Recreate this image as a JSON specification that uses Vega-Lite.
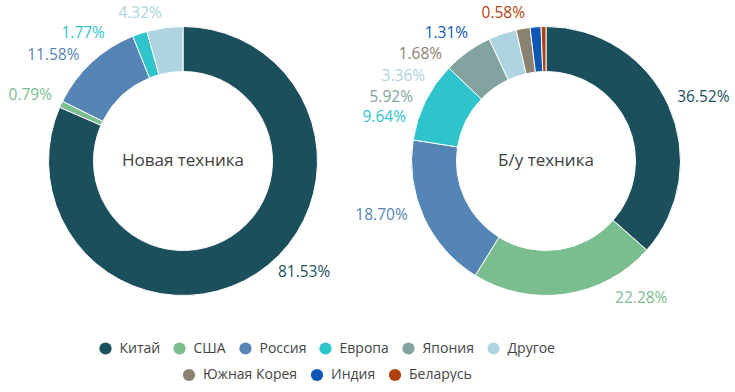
{
  "$schema": "https://vega.github.io/schema/vega-lite/v6.json",
  "background": "white",
  "padding": {"left": 1.5, "top": 1, "right": 0, "bottom": 0},
  "spacing": 0,
  "bounds": "flush",
  "datasets": {
    "new": [
      {"cat": "Китай", "order": 1, "value": 0.8153},
      {"cat": "США", "order": 2, "value": 0.0079},
      {"cat": "Россия", "order": 3, "value": 0.1158},
      {"cat": "Европа", "order": 4, "value": 0.0177},
      {"cat": "Другое", "order": 6, "value": 0.0432}
    ],
    "used": [
      {"cat": "Китай", "order": 1, "value": 0.3652},
      {"cat": "США", "order": 2, "value": 0.2228},
      {"cat": "Россия", "order": 3, "value": 0.1870},
      {"cat": "Европа", "order": 4, "value": 0.0964},
      {"cat": "Япония", "order": 5, "value": 0.0592},
      {"cat": "Другое", "order": 6, "value": 0.0336},
      {"cat": "Южная Корея", "order": 7, "value": 0.0168},
      {"cat": "Индия", "order": 8, "value": 0.0131},
      {"cat": "Беларусь", "order": 9, "value": 0.0058}
    ]
  },
  "hconcat": [
    {
      "width": 363, "height": 320,
      "data": {"name": "new"},
      "layer": [
        {
          "mark": {"type": "arc", "outerRadius": 134.5, "innerRadius": 89.5, "stroke": "#ffffff", "strokeWidth": 1},
          "encoding": {
            "theta": {"field": "value", "type": "quantitative", "stack": true},
            "order": {"field": "order", "type": "quantitative"},
            "color": {"field": "cat", "type": "nominal",
              "scale": {"domain": ["Китай","США","Россия","Европа","Япония","Другое","Южная Корея","Индия","Беларусь"], "range": ["#1c4f5c","#7abd8f","#5585b5","#2ec4cc","#82a3a0","#add4e0","#8b8170","#0d57b5","#b0420f"]},
              "legend": {"values": ["Китай","США","Россия","Европа","Япония","Другое"], "orient": "none", "legendX": 97, "legendY": 340.5, "direction": "horizontal", "title": null, "symbolSize": 150,
                "encode": {"symbols": {"update": {"size": {"value": 150}, "strokeWidth": {"value": 0}}}}}}
          }
        },
        {
          "mark": {"type": "text", "radius": 134, "align": "left", "baseline": "middle", "dx": 21.5, "dy": -1, "font": "Open Sans", "fontSize": 15.5},
          "encoding": {
            "theta": {"field": "value", "type": "quantitative", "stack": true},
            "order": {"field": "order", "type": "quantitative"},
            "color": {"field": "cat", "type": "nominal", "scale": {"domain": ["Китай","США","Россия","Европа","Япония","Другое","Южная Корея","Индия","Беларусь"], "range": ["#1c4f5c","#7abd8f","#5585b5","#2ec4cc","#82a3a0","#add4e0","#8b8170","#0d57b5","#b0420f"]}},
            "text": {"condition": {"test": "datum.cat === 'Китай'", "field": "value", "type": "quantitative", "format": ".2%"}, "value": ""}
          }
        },
        {
          "mark": {"type": "text", "radius": 134, "align": "right", "baseline": "middle", "dx": -9.5, "dy": -9, "font": "Open Sans", "fontSize": 15.5},
          "encoding": {
            "theta": {"field": "value", "type": "quantitative", "stack": true},
            "order": {"field": "order", "type": "quantitative"},
            "color": {"field": "cat", "type": "nominal", "scale": {"domain": ["Китай","США","Россия","Европа","Япония","Другое","Южная Корея","Индия","Беларусь"], "range": ["#1c4f5c","#7abd8f","#5585b5","#2ec4cc","#82a3a0","#add4e0","#8b8170","#0d57b5","#b0420f"]}},
            "text": {"condition": {"test": "datum.cat === 'США'", "field": "value", "type": "quantitative", "format": ".2%"}, "value": ""}
          }
        },
        {
          "mark": {"type": "text", "radius": 134, "align": "right", "baseline": "middle", "dx": -12.5, "dy": -8, "font": "Open Sans", "fontSize": 15.5},
          "encoding": {
            "theta": {"field": "value", "type": "quantitative", "stack": true},
            "order": {"field": "order", "type": "quantitative"},
            "color": {"field": "cat", "type": "nominal", "scale": {"domain": ["Китай","США","Россия","Европа","Япония","Другое","Южная Корея","Индия","Беларусь"], "range": ["#1c4f5c","#7abd8f","#5585b5","#2ec4cc","#82a3a0","#add4e0","#8b8170","#0d57b5","#b0420f"]}},
            "text": {"condition": {"test": "datum.cat === 'Россия'", "field": "value", "type": "quantitative", "format": ".2%"}, "value": ""}
          }
        },
        {
          "mark": {"type": "text", "radius": 134, "align": "right", "baseline": "middle", "dx": -35, "dy": -1, "font": "Open Sans", "fontSize": 15.5},
          "encoding": {
            "theta": {"field": "value", "type": "quantitative", "stack": true},
            "order": {"field": "order", "type": "quantitative"},
            "color": {"field": "cat", "type": "nominal", "scale": {"domain": ["Китай","США","Россия","Европа","Япония","Другое","Южная Корея","Индия","Беларусь"], "range": ["#1c4f5c","#7abd8f","#5585b5","#2ec4cc","#82a3a0","#add4e0","#8b8170","#0d57b5","#b0420f"]}},
            "text": {"condition": {"test": "datum.cat === 'Европа'", "field": "value", "type": "quantitative", "format": ".2%"}, "value": ""}
          }
        },
        {
          "mark": {"type": "text", "radius": 134, "align": "right", "baseline": "middle", "dx": -3, "dy": -15, "font": "Open Sans", "fontSize": 15.5},
          "encoding": {
            "theta": {"field": "value", "type": "quantitative", "stack": true},
            "order": {"field": "order", "type": "quantitative"},
            "color": {"field": "cat", "type": "nominal", "scale": {"domain": ["Китай","США","Россия","Европа","Япония","Другое","Южная Корея","Индия","Беларусь"], "range": ["#1c4f5c","#7abd8f","#5585b5","#2ec4cc","#82a3a0","#add4e0","#8b8170","#0d57b5","#b0420f"]}},
            "text": {"condition": {"test": "datum.cat === 'Другое'", "field": "value", "type": "quantitative", "format": ".2%"}, "value": ""}
          }
        },
        {
          "data": {"values": [{"title": "Новая техника"}]},
          "mark": {"type": "text", "align": "center", "baseline": "middle", "font": "Open Sans", "fontSize": 17, "color": "#404040"},
          "encoding": {"text": {"field": "title", "type": "nominal"}}
        }
      ]
    },
    {
      "width": 363, "height": 320,
      "data": {"name": "used"},
      "layer": [
        {
          "mark": {"type": "arc", "outerRadius": 134.5, "innerRadius": 89.5, "stroke": "#ffffff", "strokeWidth": 1},
          "encoding": {
            "theta": {"field": "value", "type": "quantitative", "stack": true},
            "order": {"field": "order", "type": "quantitative"},
            "color": {"field": "cat", "type": "nominal",
              "scale": {"domain": ["Китай","США","Россия","Европа","Япония","Другое","Южная Корея","Индия","Беларусь"], "range": ["#1c4f5c","#7abd8f","#5585b5","#2ec4cc","#82a3a0","#add4e0","#8b8170","#0d57b5","#b0420f"]}}
          }
        },
        {
          "mark": {"type": "arc", "outerRadius": 0, "innerRadius": 0},
          "encoding": {
            "theta": {"field": "value", "type": "quantitative", "stack": true},
            "order": {"field": "order", "type": "quantitative"},
            "fill": {"field": "cat", "type": "nominal",
              "scale": {"domain": ["Южная Корея","Индия","Беларусь","Китай","США","Россия","Европа","Япония","Другое"], "range": ["#8b8170","#0d57b5","#b0420f","#1c4f5c","#7abd8f","#5585b5","#2ec4cc","#82a3a0","#add4e0"]},
              "legend": {"values": ["Южная Корея","Индия","Беларусь"], "orient": "none", "legendX": 180.5, "legendY": 367, "direction": "horizontal", "title": null, "symbolSize": 150, "symbolType": "circle",
                "encode": {"symbols": {"update": {"size": {"value": 150}, "strokeWidth": {"value": 0}}}}}}
          }
        },
        {
          "mark": {"type": "text", "radius": 134, "align": "left", "baseline": "middle", "dx": 9, "dy": -9, "font": "Open Sans", "fontSize": 15.5},
          "encoding": {
            "theta": {"field": "value", "type": "quantitative", "stack": true},
            "order": {"field": "order", "type": "quantitative"},
            "color": {"field": "cat", "type": "nominal", "scale": {"domain": ["Китай","США","Россия","Европа","Япония","Другое","Южная Корея","Индия","Беларусь"], "range": ["#1c4f5c","#7abd8f","#5585b5","#2ec4cc","#82a3a0","#add4e0","#8b8170","#0d57b5","#b0420f"]}},
            "text": {"condition": {"test": "datum.cat === 'Китай'", "field": "value", "type": "quantitative", "format": ".2%"}, "value": ""}
          }
        },
        {
          "mark": {"type": "text", "radius": 134, "align": "left", "baseline": "middle", "dx": 49.5, "dy": 4.5, "font": "Open Sans", "fontSize": 15.5},
          "encoding": {
            "theta": {"field": "value", "type": "quantitative", "stack": true},
            "order": {"field": "order", "type": "quantitative"},
            "color": {"field": "cat", "type": "nominal", "scale": {"domain": ["Китай","США","Россия","Европа","Япония","Другое","Южная Корея","Индия","Беларусь"], "range": ["#1c4f5c","#7abd8f","#5585b5","#2ec4cc","#82a3a0","#add4e0","#8b8170","#0d57b5","#b0420f"]}},
            "text": {"condition": {"test": "datum.cat === 'США'", "field": "value", "type": "quantitative", "format": ".2%"}, "value": ""}
          }
        },
        {
          "mark": {"type": "text", "radius": 134, "align": "right", "baseline": "middle", "dx": -16.5, "dy": -2, "font": "Open Sans", "fontSize": 15.5},
          "encoding": {
            "theta": {"field": "value", "type": "quantitative", "stack": true},
            "order": {"field": "order", "type": "quantitative"},
            "color": {"field": "cat", "type": "nominal", "scale": {"domain": ["Китай","США","Россия","Европа","Япония","Другое","Южная Корея","Индия","Беларусь"], "range": ["#1c4f5c","#7abd8f","#5585b5","#2ec4cc","#82a3a0","#add4e0","#8b8170","#0d57b5","#b0420f"]}},
            "text": {"condition": {"test": "datum.cat === 'Россия'", "field": "value", "type": "quantitative", "format": ".2%"}, "value": ""}
          }
        },
        {
          "mark": {"type": "text", "radius": 134, "align": "right", "baseline": "middle", "dx": -20, "dy": 15.5, "font": "Open Sans", "fontSize": 15.5},
          "encoding": {
            "theta": {"field": "value", "type": "quantitative", "stack": true},
            "order": {"field": "order", "type": "quantitative"},
            "color": {"field": "cat", "type": "nominal", "scale": {"domain": ["Китай","США","Россия","Европа","Япония","Другое","Южная Корея","Индия","Беларусь"], "range": ["#1c4f5c","#7abd8f","#5585b5","#2ec4cc","#82a3a0","#add4e0","#8b8170","#0d57b5","#b0420f"]}},
            "text": {"condition": {"test": "datum.cat === 'Европа'", "field": "value", "type": "quantitative", "format": ".2%"}, "value": ""}
          }
        },
        {
          "mark": {"type": "text", "radius": 134, "align": "right", "baseline": "middle", "dx": -55, "dy": 45, "font": "Open Sans", "fontSize": 15.5},
          "encoding": {
            "theta": {"field": "value", "type": "quantitative", "stack": true},
            "order": {"field": "order", "type": "quantitative"},
            "color": {"field": "cat", "type": "nominal", "scale": {"domain": ["Китай","США","Россия","Европа","Япония","Другое","Южная Корея","Индия","Беларусь"], "range": ["#1c4f5c","#7abd8f","#5585b5","#2ec4cc","#82a3a0","#add4e0","#8b8170","#0d57b5","#b0420f"]}},
            "text": {"condition": {"test": "datum.cat === 'Япония'", "field": "value", "type": "quantitative", "format": ".2%"}, "value": ""}
          }
        },
        {
          "mark": {"type": "text", "radius": 134, "align": "right", "baseline": "middle", "dx": -77.5, "dy": 42, "font": "Open Sans", "fontSize": 15.5},
          "encoding": {
            "theta": {"field": "value", "type": "quantitative", "stack": true},
            "order": {"field": "order", "type": "quantitative"},
            "color": {"field": "cat", "type": "nominal", "scale": {"domain": ["Китай","США","Россия","Европа","Япония","Другое","Южная Корея","Индия","Беларусь"], "range": ["#1c4f5c","#7abd8f","#5585b5","#2ec4cc","#82a3a0","#add4e0","#8b8170","#0d57b5","#b0420f"]}},
            "text": {"condition": {"test": "datum.cat === 'Другое'", "field": "value", "type": "quantitative", "format": ".2%"}, "value": ""}
          }
        },
        {
          "mark": {"type": "text", "radius": 134, "align": "right", "baseline": "middle", "dx": -81, "dy": 25, "font": "Open Sans", "fontSize": 15.5},
          "encoding": {
            "theta": {"field": "value", "type": "quantitative", "stack": true},
            "order": {"field": "order", "type": "quantitative"},
            "color": {"field": "cat", "type": "nominal", "scale": {"domain": ["Китай","США","Россия","Европа","Япония","Другое","Южная Корея","Индия","Беларусь"], "range": ["#1c4f5c","#7abd8f","#5585b5","#2ec4cc","#82a3a0","#add4e0","#8b8170","#0d57b5","#b0420f"]}},
            "text": {"condition": {"test": "datum.cat === 'Южная Корея'", "field": "value", "type": "quantitative", "format": ".2%"}, "value": ""}
          }
        },
        {
          "mark": {"type": "text", "radius": 134, "align": "right", "baseline": "middle", "dx": -67.5, "dy": 5.5, "font": "Open Sans", "fontSize": 15.5},
          "encoding": {
            "theta": {"field": "value", "type": "quantitative", "stack": true},
            "order": {"field": "order", "type": "quantitative"},
            "color": {"field": "cat", "type": "nominal", "scale": {"domain": ["Китай","США","Россия","Европа","Япония","Другое","Южная Корея","Индия","Беларусь"], "range": ["#1c4f5c","#7abd8f","#5585b5","#2ec4cc","#82a3a0","#add4e0","#8b8170","#0d57b5","#b0420f"]}},
            "text": {"condition": {"test": "datum.cat === 'Индия'", "field": "value", "type": "quantitative", "format": ".2%"}, "value": ""}
          }
        },
        {
          "mark": {"type": "text", "radius": 134, "align": "right", "baseline": "middle", "dx": -18.5, "dy": -14, "font": "Open Sans", "fontSize": 15.5},
          "encoding": {
            "theta": {"field": "value", "type": "quantitative", "stack": true},
            "order": {"field": "order", "type": "quantitative"},
            "color": {"field": "cat", "type": "nominal", "scale": {"domain": ["Китай","США","Россия","Европа","Япония","Другое","Южная Корея","Индия","Беларусь"], "range": ["#1c4f5c","#7abd8f","#5585b5","#2ec4cc","#82a3a0","#add4e0","#8b8170","#0d57b5","#b0420f"]}},
            "text": {"condition": {"test": "datum.cat === 'Беларусь'", "field": "value", "type": "quantitative", "format": ".2%"}, "value": ""}
          }
        },
        {
          "data": {"values": [{"title": "Б/у техника"}]},
          "mark": {"type": "text", "align": "center", "baseline": "middle", "font": "Open Sans", "fontSize": 17, "color": "#404040"},
          "encoding": {"text": {"field": "title", "type": "nominal"}}
        }
      ]
    }
  ],
  "config": {
    "view": {"stroke": null},
    "font": "Open Sans",
    "legend": {
      "labelFont": "Open Sans",
      "labelFontSize": 14,
      "labelColor": "#444444",
      "symbolType": "circle",
      "symbolSize": 150,
      "symbolStrokeWidth": 0,
      "columnPadding": 12,
      "labelOffset": 7,
      "padding": 0
    }
  }
}
